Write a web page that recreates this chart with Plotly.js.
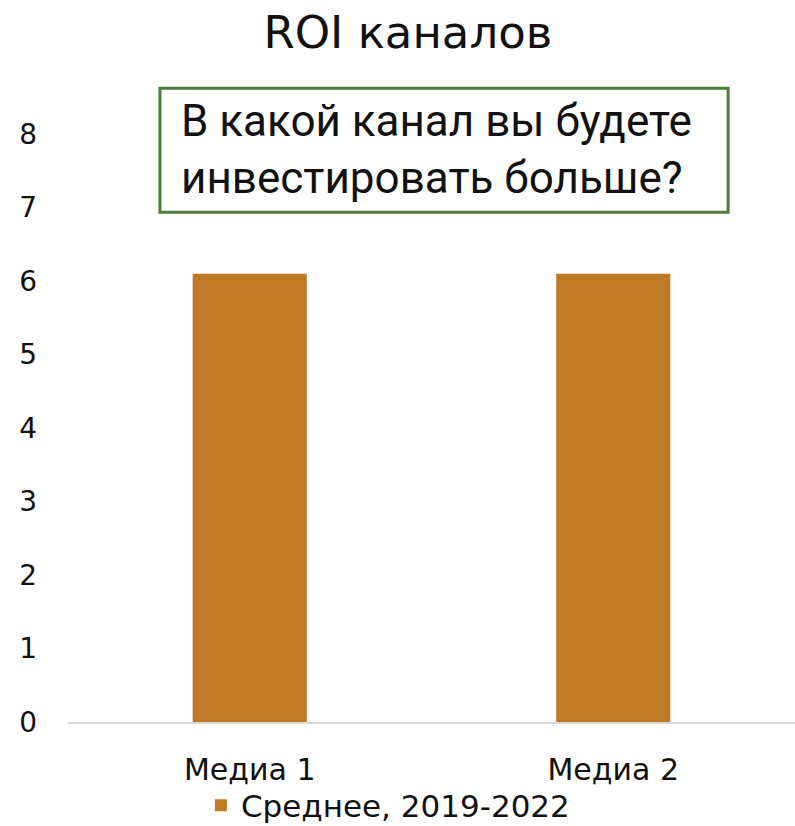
<!DOCTYPE html>
<html><head><meta charset="utf-8">
<script src="https://cdn.plot.ly/plotly-3.0.1.min.js"></script>
<style>html,body{margin:0;padding:0;background:#fff;overflow:hidden}</style>
</head><body>
<div id="chart" style="width:795px;height:826px"></div>
<script>
const categories = ["Медиа 1", "Медиа 2"];
const values = [6.1, 6.1];
const seriesName = "Среднее, 2019-2022";
const yTicks = [0, 1, 2, 3, 4, 5, 6, 7, 8];
const chartTitle = "ROI каналов";
const noteText = "В какой канал вы будете<br>инвестировать больше?";

const trace = {
  type: "bar", x: categories, y: values, name: seriesName,
  marker: {color: "#BF7A28"}, showlegend: true, hoverinfo: "skip"
};
const layout = {
  width: 795, height: 826,
  margin: {l: 68, r: 0, t: 134, b: 104, autoexpand: false},
  paper_bgcolor: "#fff", plot_bgcolor: "#fff",
  font: {family: "DejaVu Sans, sans-serif", color: "#111"},
  title: {text: chartTitle, x: 0.513, xanchor: "center", y: 0.961, yanchor: "middle",
          font: {size: 45, family: "DejaVu Sans, sans-serif", color: "#111"}},
  bargap: 0.686,
  xaxis: {showline: true, linecolor: "#D9D9D9", linewidth: 2, ticks: "", showgrid: false,
          automargin: false,
          tickfont: {size: 30, color: "#111"}, ticklabelstandoff: 20},
  yaxis: {range: [0, 8], tickvals: yTicks, showgrid: false, zeroline: false, showline: false,
          automargin: false,
          ticks: "", tickfont: {size: 28, color: "#111"}, ticklabelstandoff: 30},
  legend: {orientation: "h", x: 0.44, xanchor: "center", y: -0.142, yanchor: "middle",
           bgcolor: "rgba(0,0,0,0)",
           font: {size: 31, color: "#111"}, itemwidth: 20},
  shapes: [{
    type: "rect", xref: "paper", yref: "paper", x0: 0.1265, x1: 0.908, y0: 0.867, y1: 1.078,
    line: {color: "#4E7A3A", width: 3}, fillcolor: "#fff", layer: "above"
  }],
  annotations: [{
    text: noteText, xref: "paper", yref: "paper", x: 0.153, y: 0.973,
    xanchor: "left", yanchor: "middle", showarrow: false, align: "left",
    font: {size: 44, family: "Roboto, sans-serif", color: "#111"}
  }]
};
Plotly.newPlot("chart", [trace], layout, {displayModeBar: false, staticPlot: true});
</script>
</body></html>
